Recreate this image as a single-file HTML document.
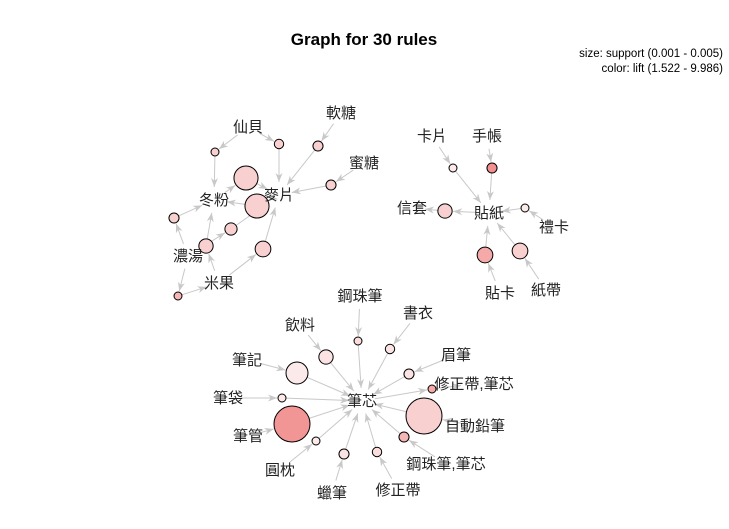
<!DOCTYPE html>
<html><head><meta charset="utf-8"><style>
body{margin:0;background:#fff}
svg{display:block}
text{font-family:"Liberation Sans","WenQuanYi Zen Hei","Noto Sans CJK TC",sans-serif}
</style></head><body>
<svg id="c" width="729" height="529" xmlns="http://www.w3.org/2000/svg">
<text x="364" y="45" text-anchor="middle" font-size="17" font-weight="bold">Graph for 30 rules</text>
<text x="723" y="57" text-anchor="end" font-size="11.5">size: support (0.001 - 0.005)</text>
<text x="723" y="72" text-anchor="end" font-size="11.5">color: lift (1.522 - 9.986)</text>
<g id="edges"></g><g id="rules"></g><g id="labels"></g>
</svg>
<script>
const itemNames=["仙貝","軟糖","蜜糖","冬粉","麥片","濃湯","米果","卡片","手帳","信套","貼紙","禮卡","貼卡","紙帶","鋼珠筆","書衣","飲料","眉筆","筆記","修正帶,筆芯","筆袋","筆芯","自動鉛筆","筆管","鋼珠筆,筆芯","圓枕","修正帶","蠟筆"];
const itemX=[248,341,364,214,279,188,219,432,487,412,489,554,500,546,360,418,300,456,247,474,228,362,475,248,446,280,398,332];
const itemY=[127,113,163,200,195,256,283,136,136,208,213,227,293,290,296,313,325,355,360,384,398,401,426,436,464,470,490,493];
const ruleX=[215,279,318,331,246,257,174,206,231,263,178,453,492,445,525,485,520,358,390,409,432,424,404,377,344,316,292,282,297,326];
const ruleY=[152,144,146,185,178,206,218,246,229,249,296,168,168,211,208,255,251,341,349,374,389,416,437,452,454,441,424,398,373,357];
const support=[0.001,0.0012,0.0013,0.0013,0.0033,0.0033,0.0013,0.0019,0.0016,0.0021,0.001,0.001,0.0013,0.0019,0.001,0.0021,0.0021,0.001,0.0012,0.0013,0.001,0.005,0.0013,0.0012,0.0013,0.001,0.005,0.001,0.003,0.0019];
const lift=[4,4,4,4,4,4,4,4,4,4,6,2,9,4,2,7,4,3,2.5,2.5,7,4,6,3,2.5,2,8.5,2,2,2.5];
const lhsEdges=[["仙貝",0],["仙貝",1],["軟糖",2],["蜜糖",3],["冬粉",4],["麥片",5],["濃湯",6],["米果",7],["濃湯",8],["米果",9],["濃湯",10],["卡片",11],["手帳",12],["貼紙",13],["禮卡",14],["貼卡",15],["紙帶",16],["鋼珠筆",17],["書衣",18],["眉筆",19],["筆芯",20],["自動鉛筆",21],["鋼珠筆,筆芯",22],["修正帶",23],["蠟筆",24],["圓枕",25],["筆管",26],["筆袋",27],["筆記",28],["飲料",29]];
const rhsEdges=[[0,"冬粉"],[1,"麥片"],[2,"麥片"],[3,"麥片"],[4,"麥片"],[5,"冬粉"],[6,"冬粉"],[7,"冬粉"],[8,"麥片"],[9,"麥片"],[10,"米果"],[11,"貼紙"],[12,"貼紙"],[13,"信套"],[14,"貼紙"],[15,"貼紙"],[16,"貼紙"],[17,"筆芯"],[18,"筆芯"],[19,"筆芯"],[20,"修正帶,筆芯"],[21,"筆芯"],[22,"筆芯"],[23,"筆芯"],[24,"筆芯"],[25,"筆芯"],[26,"筆芯"],[27,"筆芯"],[28,"筆芯"],[29,"筆芯"]];

const NS="http://www.w3.org/2000/svg";
const rad=s=>4+(s-0.001)/0.004*14;
function col(l){const t=Math.max(0,Math.min(1,(l-1.522)/(9.986-1.522)));
 const r=Math.round(253-t*13),g=Math.round(240-t*110),b=Math.round(240-t*110);return `rgb(${r},${g},${b})`;}
function itemPos(n){const i=itemNames.indexOf(n);return [itemX[i],itemY[i]];}
const eg=document.getElementById('edges');
function arrow(x1,y1,r1,x2,y2,r2){
 const dx=x2-x1,dy=y2-y1,d=Math.hypot(dx,dy),ux=dx/d,uy=dy/d;
 const sx=x1+ux*r1,sy=y1+uy*r1,ex=x2-ux*r2,ey=y2-uy*r2;
 const l=document.createElementNS(NS,'line');
 
 
 l.setAttribute('x1',sx);l.setAttribute('y1',sy);l.setAttribute('x2',ex);l.setAttribute('y2',ey);
 l.setAttribute('stroke','#c8c8c8');l.setAttribute('stroke-width','1');eg.appendChild(l);
 const px=-uy,py=ux,a=9,w=3.5;
 const p=document.createElementNS(NS,'polygon');
 
 
 p.setAttribute('points',`${ex},${ey} ${ex-ux*a+px*w},${ey-uy*a+py*w} ${ex-ux*a*0.7},${ey-uy*a*0.7} ${ex-ux*a-px*w},${ey-uy*a-py*w}`);
 p.setAttribute('fill','#c8c8c8');eg.appendChild(p);
}
const LR=13;
lhsEdges.forEach(([n,r])=>{const [x,y]=itemPos(n);arrow(x,y,LR,ruleX[r],ruleY[r],rad(support[r])+1);});
rhsEdges.forEach(([r,n])=>{const [x,y]=itemPos(n);arrow(ruleX[r],ruleY[r],rad(support[r]),x,y,LR);});
const rg=document.getElementById('rules');
ruleX.forEach((x,i)=>{const c=document.createElementNS(NS,'circle');
 
 
 c.setAttribute('cx',x);c.setAttribute('cy',ruleY[i]);c.setAttribute('r',rad(support[i]));
 c.setAttribute('fill',col(lift[i]));c.setAttribute('stroke','#000');c.setAttribute('stroke-width','1');rg.appendChild(c);});
const lg=document.getElementById('labels');
itemNames.forEach((n,i)=>{const t=document.createElementNS(NS,'text');
 
 
 t.setAttribute('x',itemX[i]);t.setAttribute('y',itemY[i]+5);t.setAttribute('text-anchor','middle');
 t.setAttribute('font-size','15');t.setAttribute('fill','#222');t.textContent=n;lg.appendChild(t);});
</script>
</body></html>
